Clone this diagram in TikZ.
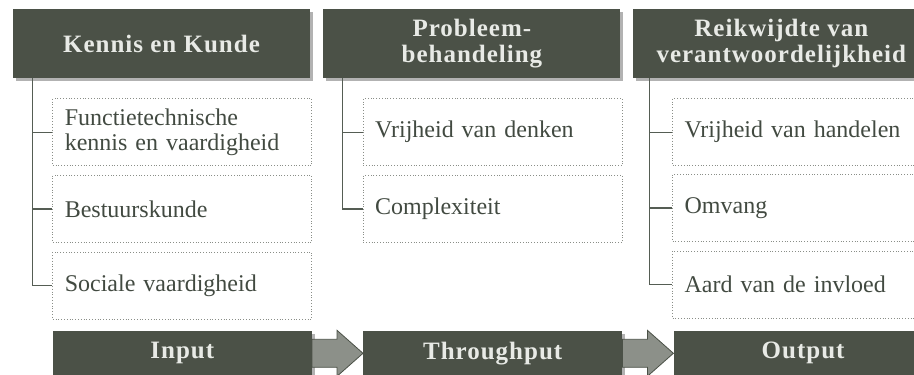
\documentclass[tikz,border=0pt]{standalone}
\usepackage{fontspec}
\setmainfont{Liberation Serif}
\newfontfamily\headfont[LetterSpace=4]{Liberation Serif}
\usetikzlibrary{positioning,calc,shadows}

\definecolor{headfill}{HTML}{4B5147}
\definecolor{headtext}{HTML}{E8EAE6}
\definecolor{itemtext}{HTML}{424A41}
\definecolor{treeline}{HTML}{555D54}
\definecolor{dotline}{HTML}{8A8E88}
\definecolor{arrowfill}{HTML}{8C9089}

\begin{document}
\begin{tikzpicture}[
    x=1pt, y=-1pt,
    head/.style={rectangle, fill=headfill, text=headtext, minimum width=297pt, minimum height=69pt, inner sep=0pt, align=center,
        font=\headfont\bfseries\fontsize{25}{26}\selectfont,
        drop shadow={shadow xshift=3pt, shadow yshift=-3pt, fill=gray!60, opacity=1}},
    item/.style={rectangle, draw=dotline, dotted, thick, text=itemtext, text width=235pt, inner xsep=12pt, inner ysep=0pt, minimum height=67pt, align=left,
        font=\fontsize{24}{25}\selectfont},
    stage/.style={head, minimum width=259pt, minimum height=45pt},
    tree/.style={draw=treeline, line width=1.2pt},
    flow/.style={draw=headfill, line width=0.8pt, fill=arrowfill}
]
\clip (0,0) rectangle (914,375);

% Headers
\node[head] (hkk) at (161.5,43.5) {Kennis en Kunde};
\node[head, right=13pt of hkk] (hpb) {Probleem-\\behandeling};
\node[head, right=12pt of hpb] (hrv) {Reikwijdte van\\verantwoordelijkheid};

% Kennis en Kunde
\node[item, below left=20pt and -2pt of hkk.south east] (kk1) {Functietechnische\\kennis en vaardigheid};
\node[item, below=9pt of kk1] (kk2) {Bestuurskunde};
\node[item, below=9pt of kk2] (kk3) {Sociale vaardigheid};

% Probleembehandeling
\node[item, below left=20pt and -2pt of hpb.south east] (pb1) {Vrijheid van denken};
\node[item, below=9pt of pb1] (pb2) {Complexiteit};

% Reikwijdte van verantwoordelijkheid
\node[item, below left=20pt and -2pt of hrv.south east] (rv1) {Vrijheid van handelen};
\node[item, below=8pt of rv1] (rv2) {Omvang};
\node[item, below=9pt of rv2] (rv3) {Aard van de invloed};

% Input, throughput, output
\node[stage, below=11pt of kk3] (in) {Input};
\node[stage, right=51pt of in] (tp) {Throughput};
\node[stage, right=51pt of tp] (out) {Output};

% Tree lines
\draw[tree] ([xshift=20pt]hkk.south west) |- (kk1.west);
\draw[tree] ([xshift=20pt]hkk.south west) |- (kk2.west);
\draw[tree] ([xshift=20pt]hkk.south west) |- (kk3.west);
\draw[tree] ([xshift=19pt]hpb.south west) |- (pb1.west);
\draw[tree] ([xshift=19pt]hpb.south west) |- (pb2.west);
\draw[tree] ([xshift=17pt]hrv.south west) |- (rv1.west);
\draw[tree] ([xshift=17pt]hrv.south west) |- (rv2.west);
\draw[tree] ([xshift=17pt]hrv.south west) |- (rv3.west);

% Block arrows
\draw[flow] ($(in.east)+(0,-14)$) -- ++(25,0) -- ++(0,-9) -- (tp.west)
    -- ($(in.east)+(25,23)$) -- ++(0,-9) -- ($(in.east)+(0,14)$) -- cycle;
\draw[flow] ($(tp.east)+(0,-14)$) -- ++(25,0) -- ++(0,-9) -- (out.west)
    -- ($(tp.east)+(25,23)$) -- ++(0,-9) -- ($(tp.east)+(0,14)$) -- cycle;

\end{tikzpicture}
\end{document}
